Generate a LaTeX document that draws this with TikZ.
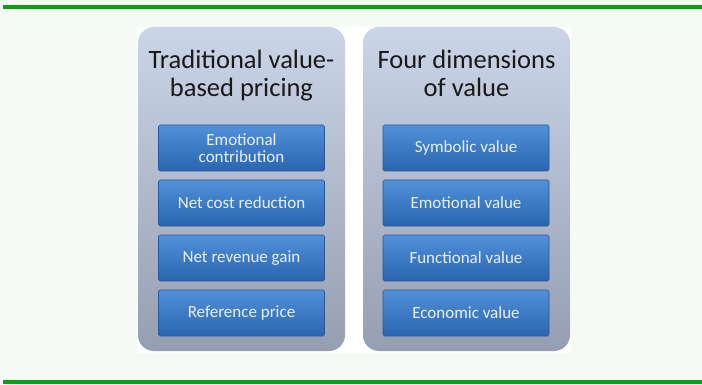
\documentclass[tikz,border=0pt]{standalone}
\usepackage{fontspec}
\setmainfont{Carlito}
\usepackage{tikz}

\definecolor{pageBack}{RGB}{245,250,245}
\definecolor{lineGreen}{RGB}{12,160,22}
\definecolor{panelTop}{RGB}{202,213,231}
\definecolor{panelBottom}{RGB}{150,158,177}
\definecolor{boxTop}{RGB}{82,145,218}
\definecolor{boxBottom}{RGB}{42,100,175}
\definecolor{boxEdge}{RGB}{40,88,150}
\definecolor{boxText}{RGB}{232,240,250}
\definecolor{titleText}{RGB}{25,25,25}

\begin{document}
\begin{tikzpicture}[x=1pt,y=-1pt]

	\tikzstyle green lines=[draw=lineGreen, line width=4pt];
	\tikzstyle panel box=[rounded corners=16pt, top color=panelTop, bottom color=panelBottom, minimum width=207pt, minimum height=324pt, inner sep=0pt];
	\tikzstyle title text=[text=titleText, font=\fontsize{26.5}{28}\selectfont, anchor=base];
	\tikzstyle value box=[rounded corners=1.5pt, top color=boxTop, bottom color=boxBottom, draw=boxEdge, line width=0.6pt, text=boxText, font=\fontsize{17}{17}\selectfont, align=center, minimum width=166pt, minimum height=46pt, inner sep=0pt];

	\fill[pageBack] (0,0) rectangle (702,385);
	\useasboundingbox (0,0) rectangle (702,385);

	\draw[green lines] (3,7) -- (702,7);
	\draw[green lines] (3,382) -- (702,382);

	\fill[white] (137,27) rectangle (571,353);

	\node[panel box] (left) at (241.5,189) {};
	\node[panel box] (right) at (466.5,189) {};

	\node[title text] (lefttitle1) at (241.5,68.5) {Traditional value-};
	\node[title text] (lefttitle2) at (241.5,96.5) {based pricing};
	\node[title text] (righttitle1) at (466.5,68.5) {Four dimensions};
	\node[title text] (righttitle2) at (466.5,96.5) {of value};

		\foreach \y/\name/\txt in {148/l1/{Emotional\\contribution},203/l2/{Net cost reduction},258/l3/{Net revenue gain},313/l4/{Reference price}}
			\node[value box] (\name) at (241.5,\y) {\txt};

		\foreach \y/\name/\txt in {148/r1/{Symbolic value},203/r2/{Emotional value},258/r3/{Functional value},313/r4/{Economic value}}
			\node[value box] (\name) at (466,\y) {\txt};

\end{tikzpicture}
\end{document}
